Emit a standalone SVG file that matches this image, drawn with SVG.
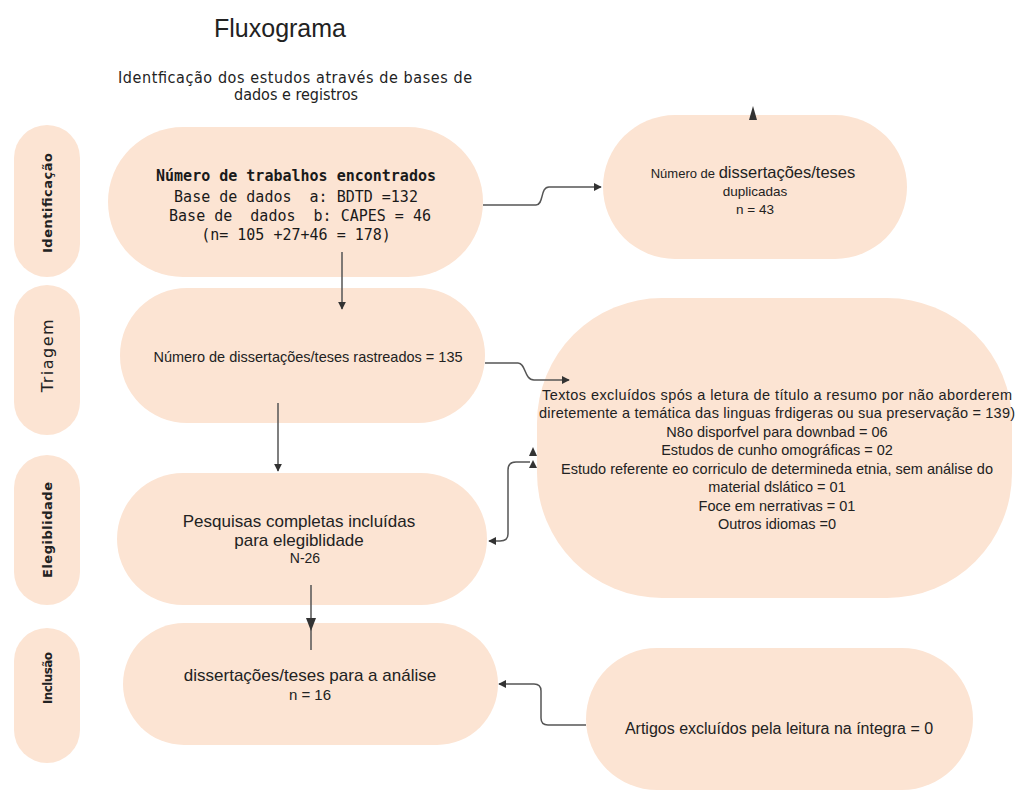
<svg xmlns="http://www.w3.org/2000/svg" width="1017" height="798" viewBox="0 0 1017 798">
<defs>
<style>
.node{fill:#fce4d3;}
.lbl{font-family:"Liberation Sans",Arial,sans-serif;fill:#222;text-anchor:middle;}
.mono{font-family:"DejaVu Sans Mono","Liberation Mono",monospace;fill:#1a1a1a;text-anchor:middle;font-size:15px;}
.side{font-family:"DejaVu Sans","Liberation Sans",sans-serif;fill:#222;text-anchor:middle;}
.sub{font-family:"DejaVu Sans Condensed","DejaVu Sans",sans-serif;font-stretch:condensed;fill:#222;text-anchor:middle;font-size:16px;}
.edge{fill:none;stroke:#555;stroke-width:1.5;}
.head{fill:#333;}
</style>
<marker id="arr" viewBox="0 0 10 10" refX="9" refY="5" markerWidth="8" markerHeight="8" markerUnits="userSpaceOnUse" orient="auto">
<path d="M0,0 L10,5 L0,10 z" fill="#333"/>
</marker>
</defs>
<rect width="1017" height="798" fill="#ffffff"/>

<g id="title">
<text x="280" y="37" class="lbl" font-size="25">Fluxograma</text>
<text x="295" y="83" class="sub" textLength="354">Identficação dos estudos através de bases de</text>
<text x="296" y="100" class="sub">dados e registros</text>
</g>

<g id="stage-identificacao">
<rect class="node" x="14" y="125" width="66" height="152" rx="33"/>
<text class="side" font-size="13" font-weight="bold" transform="translate(52,203) rotate(-90)" textLength="100">Identificação</text>
</g>
<g id="stage-triagem">
<rect class="node" x="14" y="285" width="66" height="150" rx="33"/>
<text class="side" font-size="16" transform="translate(53,355) rotate(-90)" letter-spacing="1.5">Triagem</text>
</g>
<g id="stage-elegibilidade">
<rect class="node" x="14" y="455" width="66" height="150" rx="33"/>
<text class="side" font-size="13" font-weight="bold" transform="translate(52,530) rotate(-90)" textLength="96">Elegiblidade</text>
</g>
<g id="stage-inclusao">
<rect class="node" x="14" y="628" width="66" height="135" rx="33"/>
<text class="side" font-size="12" font-weight="bold" transform="translate(52,678) rotate(-90)" textLength="52">Inclusão</text>
</g>

<g id="n-encontrados">
<rect class="node" x="108" y="127" width="375" height="150" rx="75"/>
<text class="mono" x="296" y="181" font-weight="bold">Número de trabalhos encontrados</text>
<text class="mono" x="296" y="202" xml:space="preserve">Base de dados  a: BDTD =132</text>
<text class="mono" x="300" y="221" xml:space="preserve">Base de  dados  b: CAPES = 46</text>
<text class="mono" x="296" y="240">(n= 105 +27+46 = 178)</text>
</g>

<g id="n-duplicadas">
<rect class="node" x="603" y="115" width="304" height="144" rx="72"/>
<text class="lbl" x="753" y="178"><tspan font-size="13">Número de </tspan><tspan font-size="16.5">dissertações/teses</tspan></text>
<text class="lbl" x="755" y="196" font-size="13.5">duplicadas</text>
<text class="lbl" x="755" y="214" font-size="13.5">n = 43</text>
</g>

<g id="n-rastreados">
<rect class="node" x="120" y="288" width="365" height="135" rx="67"/>
<text class="lbl" x="308" y="362" font-size="14.5">Número de dissertações/teses rastreados = 135</text>
</g>

<g id="n-excluidos">
<rect class="node" x="537" y="298" width="475" height="300" rx="125"/>
<text class="lbl" x="777" y="400" font-size="14.5" textLength="470">Textos excluídos spós a letura de título a resumo por não aborderem</text>
<text class="lbl" x="777" y="418" font-size="14.5" textLength="476">diretemente a temática das linguas frdigeras ou sua preservação = 139)</text>
<text class="lbl" x="777" y="437" font-size="14.5">N8o disporfvel para downbad = 06</text>
<text class="lbl" x="777" y="455" font-size="14.5">Estudos de cunho omográficas = 02</text>
<text class="lbl" x="777" y="474" font-size="14.5">Estudo referente eo corriculo de determineda etnia, sem análise do</text>
<text class="lbl" x="777" y="492" font-size="14.5">material dslático = 01</text>
<text class="lbl" x="777" y="511" font-size="14.5">Foce em nerrativas = 01</text>
<text class="lbl" x="777" y="529" font-size="14.5">Outros idiomas =0</text>
</g>

<g id="n-elegibilidade">
<rect class="node" x="117" y="473" width="370" height="132" rx="66"/>
<text class="lbl" x="299" y="527" font-size="17">Pesquisas completas incluídas</text>
<text class="lbl" x="299" y="546" font-size="17">para elegiblidade</text>
<text class="lbl" x="305" y="563" font-size="14">N-26</text>
</g>

<g id="n-analise">
<rect class="node" x="123" y="623" width="375" height="122" rx="61"/>
<text class="lbl" x="310" y="681" font-size="17">dissertações/teses para a análise</text>
<text class="lbl" x="310" y="700" font-size="15">n = 16</text>
</g>

<g id="n-artigos">
<rect class="node" x="586" y="648" width="387" height="142" rx="71"/>
<text class="lbl" x="779" y="734" font-size="16">Artigos excluídos pela leitura na íntegra = 0</text>
</g>

<g id="connectors">
<path class="edge" d="M483,205 H536 C544,205 540,187 549,187 H601" marker-end="url(#arr)"/>
<polygon class="head" points="753,106 749,120 757,120"/>
<path class="edge" d="M342,252 V309" marker-end="url(#arr)"/>
<path class="edge" d="M485,363 H518 C526,363 524,380 534,380 H569" marker-end="url(#arr)"/>
<path class="edge" d="M278,403 V471" marker-end="url(#arr)"/>
<path class="edge" d="M530,462 H516 Q508,462 508,470 V534 Q508,541 500,541 H489" marker-end="url(#arr)"/>
<polygon class="head" points="533,447 529,456 537,456"/>
<polygon class="head" points="533,460 529,468 537,468"/>
<path class="edge" d="M311,585 V650"/>
<polygon class="head" points="311,631 306,618 316,618"/>
<path class="edge" d="M586,725 H548 Q541,725 541,718 V691 Q541,684 534,684 H499" marker-end="url(#arr)"/>
</g>
</svg>
